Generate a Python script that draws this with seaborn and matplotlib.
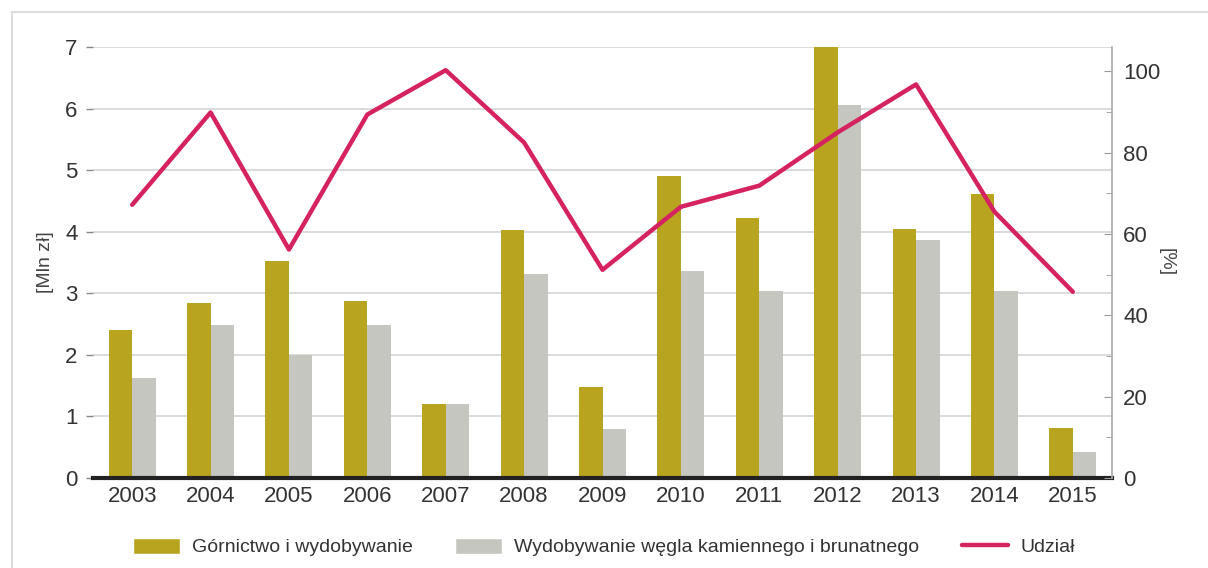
import numpy as np
import pandas as pd
import matplotlib
matplotlib.use("Agg")
import matplotlib.pyplot as plt
import seaborn as sns
from matplotlib.patches import Patch
from matplotlib.lines import Line2D
from matplotlib.ticker import MultipleLocator

years = ['2003', '2004', '2005', '2006', '2007', '2008', '2009',
         '2010', '2011', '2012', '2013', '2014', '2015']
gornictwo = [2.41, 2.85, 3.53, 2.88, 1.20, 4.02, 1.48, 4.90, 4.22, 7.00, 4.05, 4.62, 0.82]
wegiel = [1.63, 2.48, 2.00, 2.48, 1.20, 3.32, 0.80, 3.36, 3.03, 6.05, 3.87, 3.03, 0.42]
udzial = [67.2, 89.9, 56.2, 89.4, 100.3, 82.5, 51.2, 66.7, 71.9, 85.0, 96.8, 65.5, 45.8]

lab_g = 'Górnictwo i wydobywanie'
lab_w = 'Wydobywanie węgla kamiennego i brunatnego'
lab_u = 'Udział'

c_olive = '#B8A41E'
c_grey = '#C4C6BF'
c_line = '#D42360'

sns.set_style('white')
plt.rcParams['font.family'] = ['Liberation Sans', 'DejaVu Sans']

df = pd.DataFrame({
    'rok': years * 2,
    'wartosc': gornictwo + wegiel,
    'seria': [lab_g] * len(years) + [lab_w] * len(years),
})

fig = plt.figure(figsize=(12.08, 5.68), dpi=100)
ax = fig.add_axes([93 / 1208, 1 - 478 / 568, (1112 - 93) / 1208, (478 - 47) / 568])

sns.barplot(data=df, x='rok', y='wartosc', hue='seria', palette=[c_olive, c_grey],
            width=0.6, gap=0, saturation=1, linewidth=0, ax=ax, legend=False)
ax.set_ylim(0, 7)
ax.set_xlim(-0.5, len(years) - 0.5)
ax.yaxis.set_major_locator(MultipleLocator(1))
ax.grid(axis='y', color='#d4d4d4', linewidth=1.2)
ax.set_axisbelow(True)
ax.set_xlabel('')
ax.set_ylabel('[Mln zł]', fontsize=14, color='#444444', labelpad=8)
for s in ['top', 'left', 'right']:
    ax.spines[s].set_visible(False)
ax.spines['bottom'].set_color('#222222')
ax.spines['bottom'].set_linewidth(3)
ax.tick_params(axis='x', length=0, labelsize=16, labelcolor='#333333', pad=6)
ax.tick_params(axis='y', length=5, width=1, color='#888888', labelsize=16,
               labelcolor='#333333', pad=6, left=True)

ax2 = ax.twinx()
sns.lineplot(x=np.arange(len(years)), y=udzial, color=c_line, linewidth=3.2, ax=ax2)
ax2.set_ylim(0, 106)
ax2.yaxis.set_major_locator(MultipleLocator(20))
ax2.yaxis.set_minor_locator(MultipleLocator(10))
ax2.tick_params(axis='y', which='major', direction='in', length=6, color='#999999',
                labelsize=16, labelcolor='#333333', pad=8)
ax2.tick_params(axis='y', which='minor', direction='in', length=4, color='#999999')
ax2.set_ylabel('[%]', fontsize=14, color='#444444', rotation=270, labelpad=10)
for s in ['top', 'left', 'bottom']:
    ax2.spines[s].set_visible(False)
ax2.spines['right'].set_color('#aaaaaa')
ax2.spines['right'].set_linewidth(1.2)

handles = [Patch(facecolor=c_olive, label=lab_g),
           Patch(facecolor=c_grey, label=lab_w),
           Line2D([0], [0], color=c_line, linewidth=3.2, label=lab_u)]
fig.legend(handles=handles, loc='center', bbox_to_anchor=(0.5, 1 - 547 / 568), ncol=3,
           frameon=False, fontsize=14, handlelength=2.4, handleheight=0.9,
           columnspacing=2.2, handletextpad=0.6, labelcolor='#333333')

# thin light frame along top and left edge, as in the source image
fig.add_artist(Line2D([12 / 1208, 1], [1 - 12 / 568, 1 - 12 / 568],
                      transform=fig.transFigure, color='#dcdcdc', linewidth=1.5))
fig.add_artist(Line2D([12 / 1208, 12 / 1208], [0, 1 - 12 / 568],
                      transform=fig.transFigure, color='#dcdcdc', linewidth=1.5))

fig.savefig('out.png', dpi=100, facecolor='white')
